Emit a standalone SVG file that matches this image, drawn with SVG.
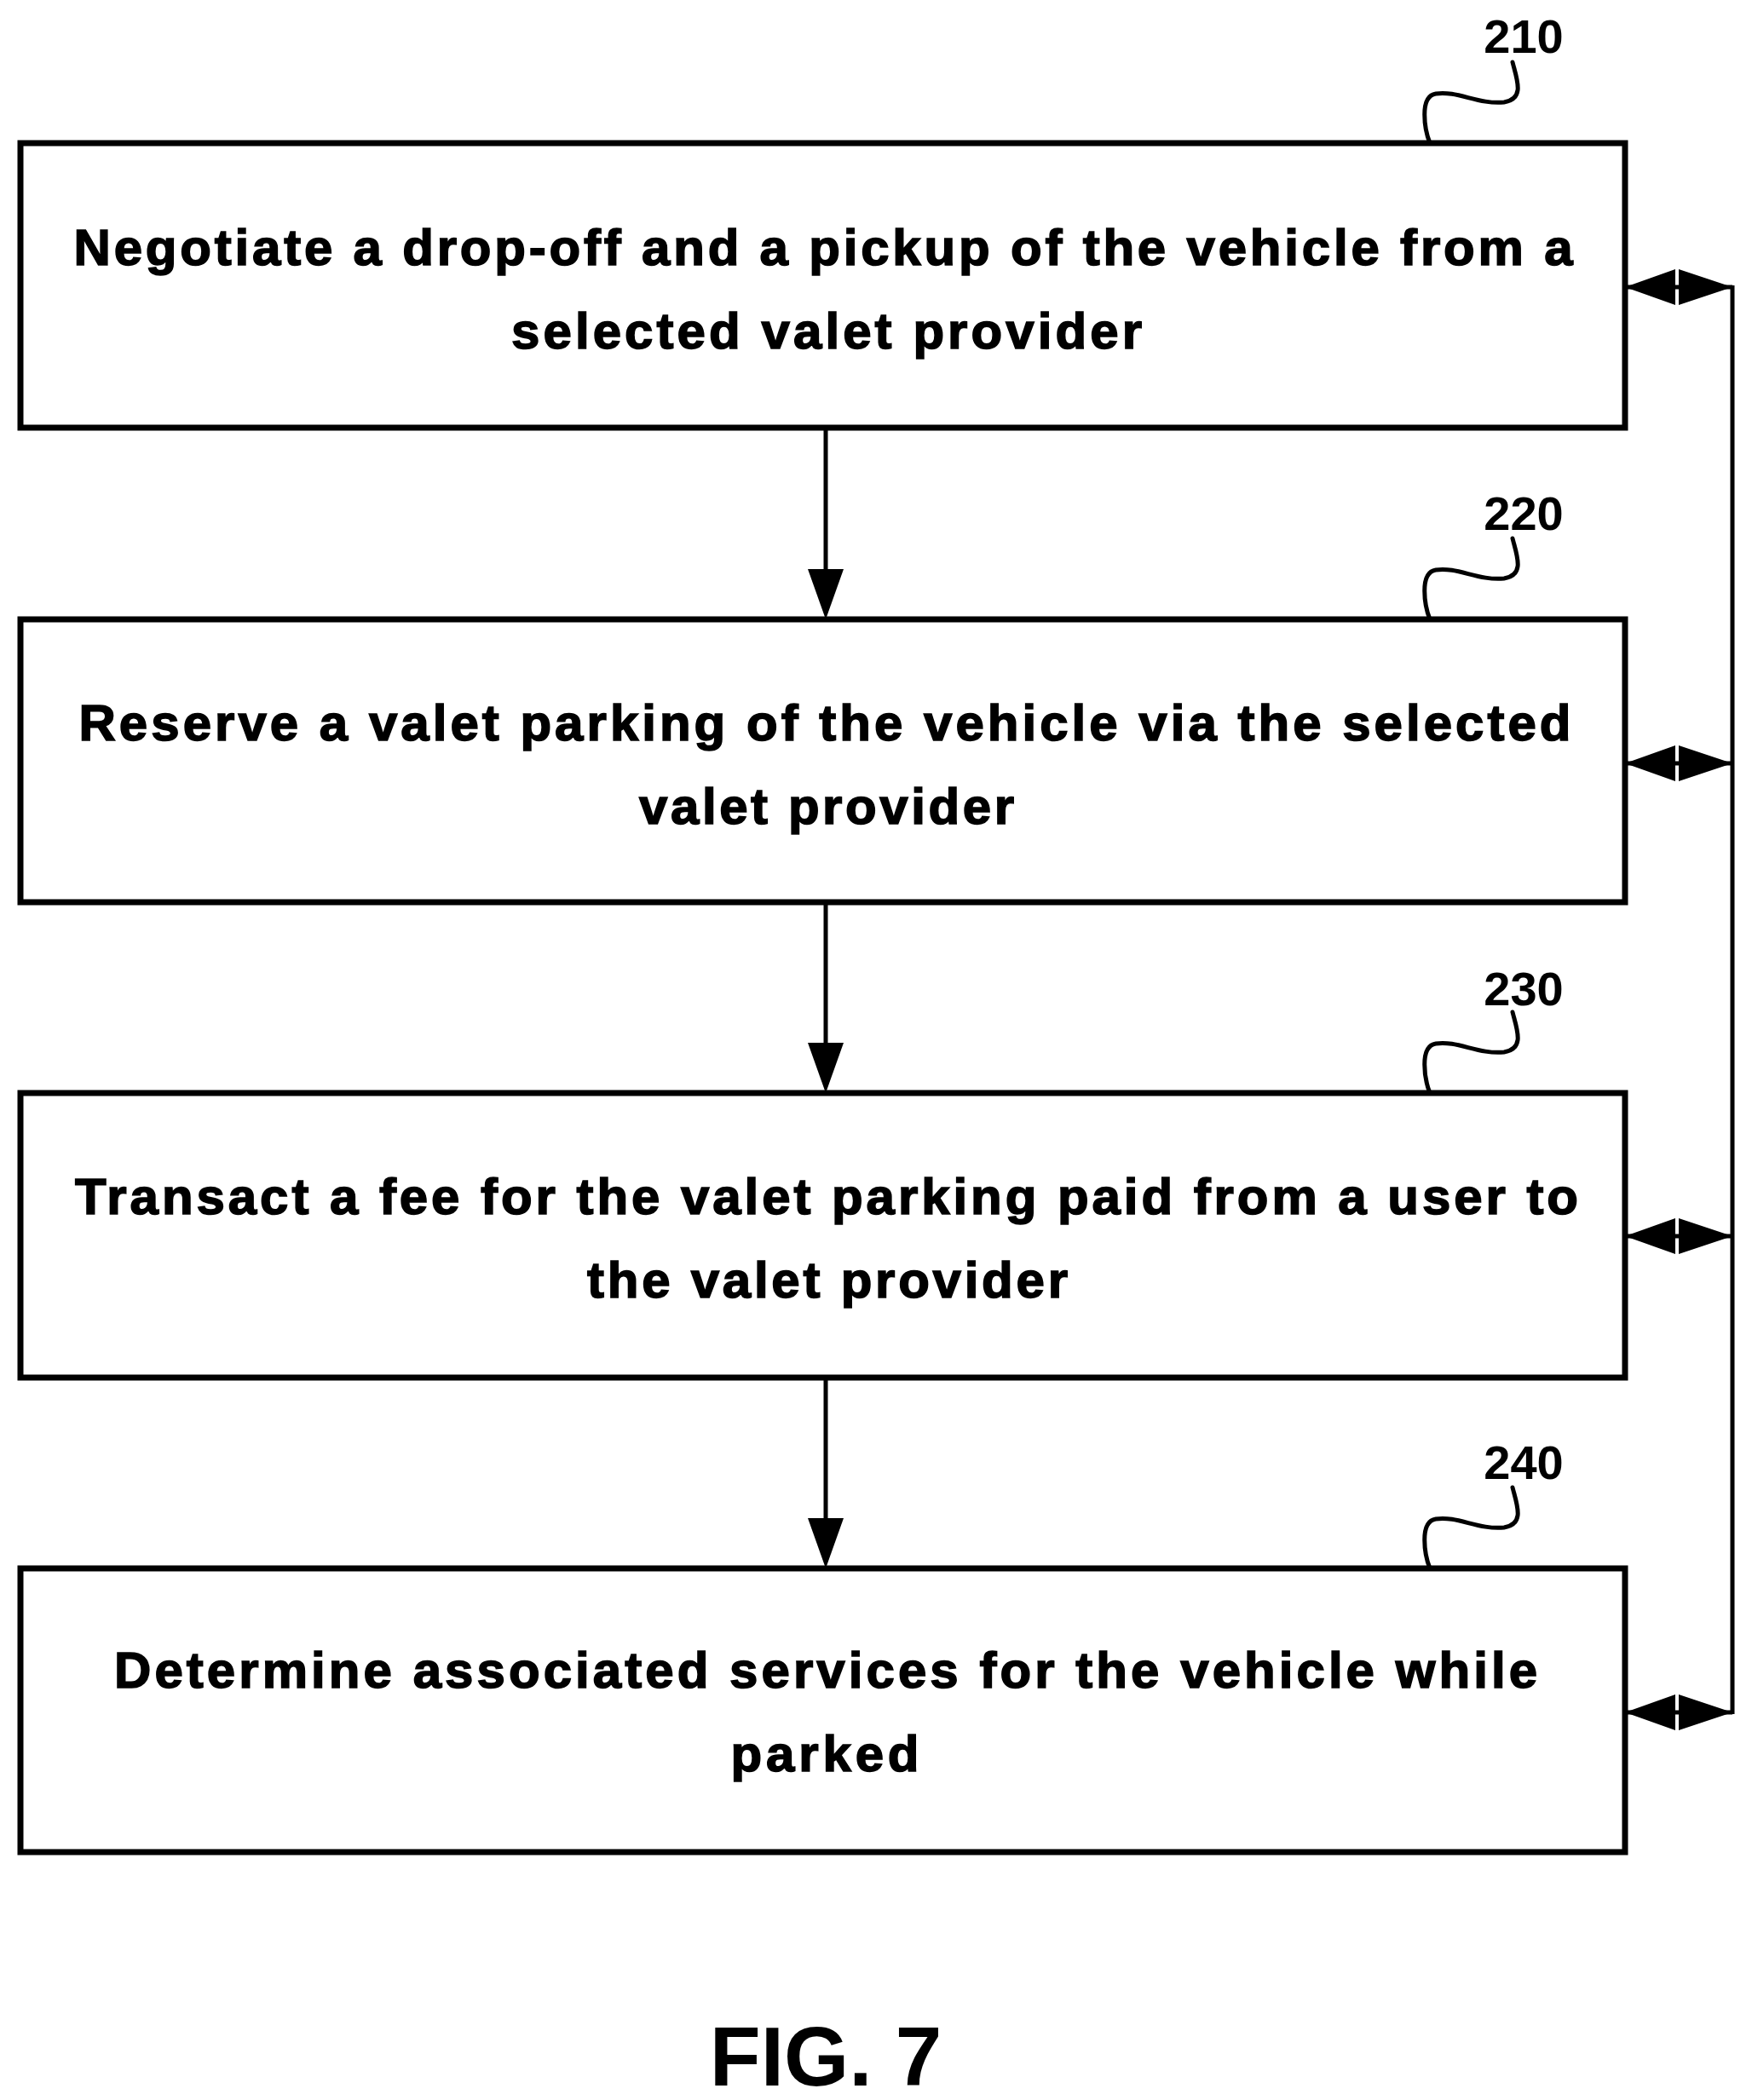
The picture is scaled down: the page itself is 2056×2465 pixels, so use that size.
<svg xmlns="http://www.w3.org/2000/svg" width="2056" height="2465" viewBox="0 0 2056 2465">
<style>
.box{fill:#fff;stroke:#000;stroke-width:7}
.t{font-family:"Liberation Sans",Arial,sans-serif;font-weight:bold;font-size:60px;text-anchor:middle;fill:#000;stroke:#000;stroke-width:1.6}
.lbl{font-family:"Liberation Sans",Arial,sans-serif;font-weight:bold;font-size:56px;text-anchor:middle;fill:#000}
.sq{fill:none;stroke:#000;stroke-width:5;stroke-linecap:round}
.ln{stroke:#000;stroke-width:5;fill:none}
</style>
<rect width="2056" height="2465" fill="#fff"/>
<g id="n210">
<rect class="box" x="24" y="168" width="1883" height="334"/>
<text class="t" x="966" y="311" textLength="1759" lengthAdjust="spacing">Negotiate a drop-off and a pickup of the vehicle from a</text>
<text class="t" x="970" y="409" textLength="740" lengthAdjust="spacing">selected valet provider</text>
<path class="sq" d="M1678,168 C1672,153 1665,113 1685,110 C1710,106 1735,123 1765,120 C1790,116 1780,93 1775,73"/>
<text class="lbl" x="1788" y="62">210</text>
</g>
<g id="n220">
<rect class="box" x="24" y="727" width="1883" height="332"/>
<text class="t" x="968" y="869" textLength="1751" lengthAdjust="spacing">Reserve a valet parking of the vehicle via the selected</text>
<text class="t" x="970" y="967" textLength="440" lengthAdjust="spacing">valet provider</text>
<path class="sq" d="M1678,727 C1672,712 1665,672 1685,669 C1710,665 1735,682 1765,679 C1790,675 1780,652 1775,632"/>
<text class="lbl" x="1788" y="622">220</text>
</g>
<g id="n230">
<rect class="box" x="24" y="1283" width="1883" height="334"/>
<text class="t" x="970" y="1425" textLength="1764" lengthAdjust="spacing">Transact a fee for the valet parking paid from a user to</text>
<text class="t" x="971" y="1523" textLength="564" lengthAdjust="spacing">the valet provider</text>
<path class="sq" d="M1678,1283 C1672,1268 1665,1228 1685,1225 C1710,1221 1735,1238 1765,1235 C1790,1231 1780,1208 1775,1188"/>
<text class="lbl" x="1788" y="1180">230</text>
</g>
<g id="n240">
<rect class="box" x="24" y="1841" width="1883" height="333"/>
<text class="t" x="969" y="1981" textLength="1670" lengthAdjust="spacing">Determine associated services for the vehicle while</text>
<text class="t" x="968" y="2079" textLength="221" lengthAdjust="spacing">parked</text>
<path class="sq" d="M1678,1841 C1672,1826 1665,1786 1685,1783 C1710,1779 1735,1796 1765,1793 C1790,1789 1780,1766 1775,1746"/>
<text class="lbl" x="1788" y="1736">240</text>
</g>
<g id="connectors">
<line class="ln" x1="969" y1="502" x2="969" y2="670"/>
<polygon points="948,668 990,668 969,727"/>
<line class="ln" x1="969" y1="1059" x2="969" y2="1226"/>
<polygon points="948,1224 990,1224 969,1283"/>
<line class="ln" x1="969" y1="1617" x2="969" y2="1784"/>
<polygon points="948,1782 990,1782 969,1841"/>
<line class="ln" x1="2033" y1="335" x2="2033" y2="2012"/>
<g>
<line class="ln" x1="1907" y1="337" x2="2033" y2="337"/>
<polygon points="1907,337 1966,316 1966,358"/><polygon points="2033,337 1970,316 1970,358"/>
<line class="ln" x1="1907" y1="896" x2="2033" y2="896"/>
<polygon points="1907,896 1966,875 1966,917"/><polygon points="2033,896 1970,875 1970,917"/>
<line class="ln" x1="1907" y1="1451" x2="2033" y2="1451"/>
<polygon points="1907,1451 1966,1430 1966,1472"/><polygon points="2033,1451 1970,1430 1970,1472"/>
<line class="ln" x1="1907" y1="2010" x2="2033" y2="2010"/>
<polygon points="1907,2010 1966,1989 1966,2031"/><polygon points="2033,2010 1970,1989 1970,2031"/>
</g>
</g>
<text x="969" y="2448" font-family="Liberation Sans,Arial,sans-serif" font-size="98" font-weight="bold" text-anchor="middle">FIG. 7</text>
</svg>
